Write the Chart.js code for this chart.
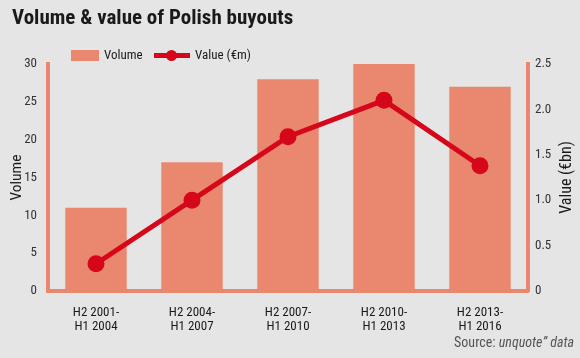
<!DOCTYPE html>
<html><head><meta charset="utf-8">
<script src="https://cdn.jsdelivr.net/npm/chart.js@4.4.1/dist/chart.umd.min.js"></script>
<style>
html,body{margin:0;padding:0;background:#e5e5e5;}
#wrap{position:relative;width:580px;height:358px;background:#e5e5e5;font-family:"Roboto Condensed","Open Sans",sans-serif;}
#title{position:absolute;left:12px;top:5px;font-size:21px;font-weight:bold;color:#1a1a1a;white-space:nowrap;}
#source{position:absolute;right:6px;top:334px;font-size:14px;color:#555;white-space:nowrap;}
.lg{position:absolute;font-size:13px;color:#1a1a1a;white-space:nowrap;}
canvas{position:absolute;left:0;top:0;}
</style></head>
<body><div id="wrap">
<canvas id="c" width="580" height="358"></canvas>
<div id="title">Volume &amp; value of Polish buyouts</div>
<div class="lg" style="left:71px;top:50px;width:28px;height:11px;background:#e9876f;"></div>
<div class="lg" style="left:104px;top:47px;">Volume</div>
<div class="lg" style="left:154px;top:53px;width:36px;height:5px;background:#d6071b;"></div>
<div class="lg" style="left:166px;top:50px;width:11px;height:11px;border-radius:50%;background:#d6071b;"></div>
<div class="lg" style="left:195px;top:47px;">Value (€m)</div>
<div id="source">Source: <i>unquote” data</i></div>
</div>
<script>
const categories = [["H2 2001-","H1 2004"],["H2 2004-","H1 2007"],["H2 2007-","H1 2010"],["H2 2010-","H1 2013"],["H2 2013-","H1 2016"]];
const volume = [11, 17, 28, 30, 27];
const value = [0.3, 1.0, 1.7, 2.1, 1.38];
const volumeTicks = [0, 5, 10, 15, 20, 25, 30];
const valueTicks = ["0", "0.5", "1.0", "1.5", "2.0", "2.5"];

const FONT = '"Roboto Condensed","Open Sans",sans-serif';
const SALMON = '#e9876f';
const RED = '#d6071b';

const rightTitle = {
  id: 'rightTitle',
  afterDraw(chart) {
    const ctx = chart.ctx, a = chart.chartArea;
    ctx.save();
    ctx.translate(567, (a.top + a.bottom) / 2);
    ctx.rotate(-Math.PI / 2);
    ctx.font = '16px ' + FONT;
    ctx.fillStyle = '#1a1a1a';
    ctx.textAlign = 'center';
    ctx.textBaseline = 'middle';
    ctx.fillText('Value (€bn)', 0, 0);
    ctx.restore();
  }
};

new Chart(document.getElementById('c'), {
  data: {
    labels: categories,
    datasets: [
      { type: 'line', label: 'Value (€m)', data: value, yAxisID: 'y1', borderColor: RED, backgroundColor: RED,
        borderWidth: 5, pointRadius: 6, pointHoverRadius: 6, tension: 0, order: 0 },
      { type: 'bar', label: 'Volume', data: volume, yAxisID: 'y', backgroundColor: SALMON,
        barPercentage: 0.64, categoryPercentage: 1, order: 1 }
    ]
  },
  options: {
    responsive: false,
    animation: false,
    layout: { padding: { top: 64, left: 0, right: 0, bottom: 0 } },
    plugins: { legend: { display: false }, tooltip: { enabled: false } },
    scales: {
      x: {
        grid: { display: false, drawTicks: false },
        border: { display: true, color: SALMON, width: 4 },
        ticks: { color: '#1a1a1a', font: { family: FONT, size: 13, lineHeight: 1.12 }, padding: 14, maxRotation: 0 },
        afterFit(s) { s.height = 67; }
      },
      y: {
        position: 'left', min: 0, max: 30,
        grid: { display: false, drawTicks: false },
        border: { display: true, color: SALMON, width: 4 },
        afterBuildTicks(s) { s.ticks = volumeTicks.map(v => ({ value: v })); },
        ticks: { color: '#333', font: { family: FONT, size: 13 }, padding: 11 },
        title: { display: true, text: 'Volume', color: '#1a1a1a', font: { family: FONT, size: 15.5 }, padding: { top: 8, bottom: 0 } },
        afterFit(s) { s.width = 48; }
      },
      y1: {
        position: 'right', min: 0, max: 2.5,
        grid: { display: false, drawTicks: false },
        border: { display: true, color: SALMON, width: 4 },
        afterBuildTicks(s) { s.ticks = valueTicks.map(v => ({ value: parseFloat(v) })); },
        ticks: { color: '#333', font: { family: FONT, size: 13 }, padding: 7,
          callback(v) { const i = valueTicks.findIndex(t => parseFloat(t) === v); return i >= 0 ? valueTicks[i] : v; } },
        afterFit(s) { s.width = 52; }
      }
    }
  },
  plugins: [rightTitle]
});
</script>
</body></html>
